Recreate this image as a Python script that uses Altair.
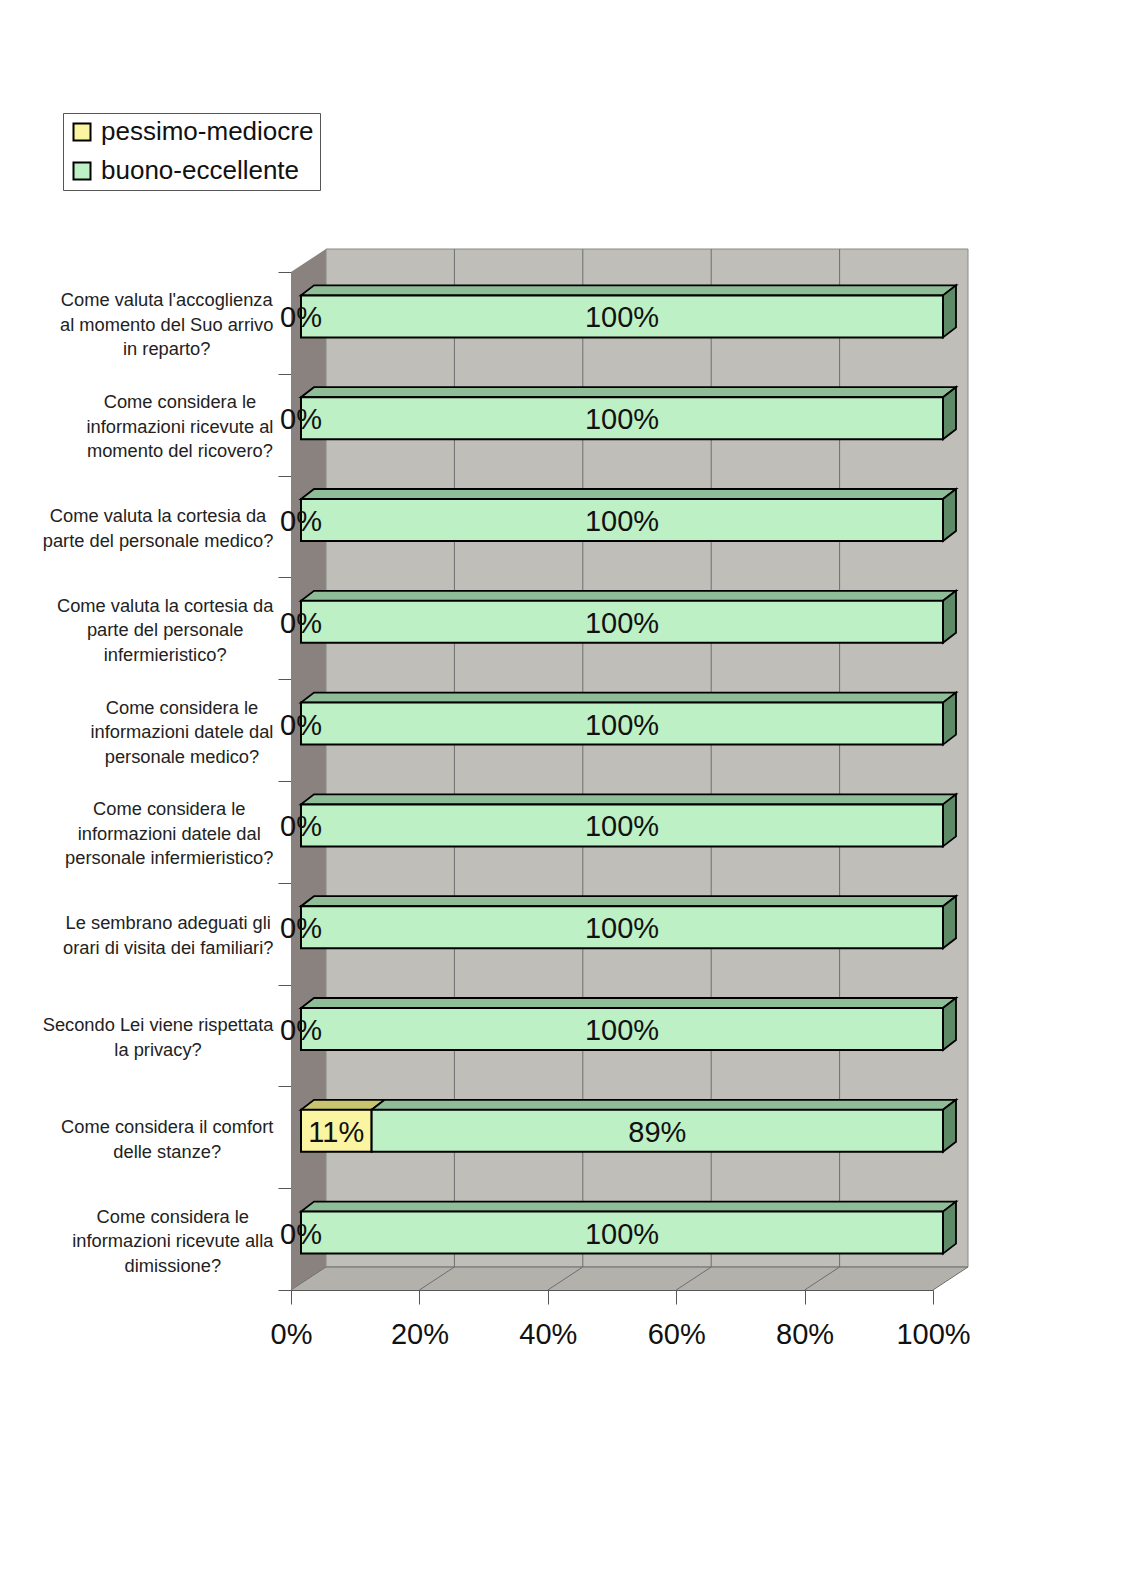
import altair as alt
import pandas as pd

# ---------------- data ----------------
categories = [
    "Come valuta l'accoglienza\nal momento del Suo arrivo\nin reparto?",
    "Come considera le\ninformazioni ricevute al\nmomento del ricovero?",
    "Come valuta la cortesia da\nparte del personale medico?",
    "Come valuta la cortesia da\nparte del personale\ninfermieristico?",
    "Come considera le\ninformazioni datele dal\npersonale medico?",
    "Come considera le\ninformazioni datele dal\npersonale infermieristico?",
    "Le sembrano adeguati gli\norari di visita dei familiari?",
    "Secondo Lei viene rispettata\nla privacy?",
    "Come considera il comfort\ndelle stanze?",
    "Come considera le\ninformazioni ricevute alla\ndimissione?",
]
series = ["pessimo-mediocre", "buono-eccellente"]
pessimo = [0, 0, 0, 0, 0, 0, 0, 0, 11, 0]
buono = [100, 100, 100, 100, 100, 100, 100, 100, 89, 100]
x_ticks = [0, 0.2, 0.4, 0.6, 0.8, 1.0]

# ---------------- geometry / style constants ----------------
W, H = 642, 1018
N = len(categories)
unit = H / N
DX, DY = 35 / W, 23 / unit          # wall depth
FX, FY = 10 / W, 6.5 / unit         # bar front-face offset
BX, BY = 13 / W, 10 / unit          # bar depth
T = 42 / unit                       # bar thickness

FONT = "Liberation Sans"
LABEL_FS = 18.3
LINE_H = 24.5
LABEL_RIGHT = -17.5                 # right edge of label blocks relative to axis (px)
front_colors = ["#fbf4a0", "#bdf0c4"]
top_colors = {"pessimo-mediocre": "#c9c46e", "buono-eccellente": "#8fbd97"}
SIDE = "#5f8a67"

# approximate Arial / Liberation Sans advance widths (per 1000 em)
CW = {" ": 278, "'": 191, "?": 556, "a": 556, "b": 556, "c": 500, "d": 556, "e": 556,
      "f": 278, "g": 556, "h": 556, "i": 222, "j": 222, "k": 500, "l": 222, "m": 833,
      "n": 556, "o": 556, "p": 556, "q": 556, "r": 333, "s": 500, "t": 278, "u": 556,
      "v": 500, "w": 722, "x": 500, "y": 500, "z": 500, "C": 722, "L": 556, "S": 667}


def text_w(s):
    return sum(CW.get(ch, 600) for ch in s) / 1000 * LABEL_FS


# ---------------- derived tables ----------------
fronts, faces, labels, cat_lab = [], [], [], []
for i, cat in enumerate(categories):
    lines = cat.split("\n")
    maxw = max(text_w(l) for l in lines)
    cat_lab.append({"cat": cat,
                    "x": (LABEL_RIGHT - maxw / 2) / W,
                    "y": N - i - 0.5 + (len(lines) - 1) / 2 * LINE_H / unit})
    c = N - i - 0.5 + FY
    top, bot = c + T / 2, c - T / 2
    x0 = 0.0
    vals = [pessimo[i] / 100, buono[i] / 100]
    for s, v in zip(series, vals):
        a, b = x0 + FX, x0 + v + FX
        labels.append({"x": (x0 + v / 2) + FX, "y": c, "txt": f"{round(v * 100)}%"})
        if v > 0:
            fronts.append({"series": s, "x": a, "x2": b, "y": bot, "y2": top})
            pid = f"t{i}{s}"
            col = top_colors[s]
            faces += [
                {"id": pid, "x": a, "y": top, "y2": top, "col": col},
                {"id": pid, "x": a + BX, "y": top, "y2": top + BY, "col": col},
                {"id": pid, "x": b, "y": top, "y2": top + BY, "col": col},
                {"id": pid, "x": b + BX, "y": top + BY, "y2": top + BY, "col": col},
            ]
        x0 += v
    b = x0 + FX
    sid = f"s{i}"
    faces += [
        {"id": sid, "x": b, "y": bot, "y2": top, "col": SIDE},
        {"id": sid, "x": b + BX, "y": bot + BY, "y2": top + BY, "col": SIDE},
    ]

fronts = pd.DataFrame(fronts)
faces = pd.DataFrame(faces)
labels = pd.DataFrame(labels)
cat_lab = pd.DataFrame(cat_lab)
cat_axis = pd.DataFrame({"cat": categories, "x": 0})

left_wall = pd.DataFrame({"y": [0, DY, N, N + DY], "x": [0, 0, 0, DX], "x2": [0, DX, DX, DX]})
floor = pd.DataFrame({"x": [0, DX, 1, 1 + DX], "y": [0, 0, 0, DY], "y2": [0, DY, DY, DY]})
back = pd.DataFrame({"x": [DX], "x2": [1 + DX], "y": [DY], "y2": [N + DY]})
grid_back = pd.DataFrame({"x": [t + DX for t in x_ticks[1:-1]], "y": DY, "y2": N + DY})
grid_floor = pd.DataFrame(
    [{"id": k, "x": t, "y": 0} for k, t in enumerate(x_ticks)]
    + [{"id": k, "x": t + DX, "y": DY} for k, t in enumerate(x_ticks)]
)
back_edge = pd.DataFrame({"x": [DX], "x2": [1 + DX], "y": [DY]})

xs = alt.Scale(domain=[0, 1], nice=False, zero=False)
ys = alt.Scale(domain=[0, N], nice=False, zero=False)
bs = alt.Scale(paddingInner=0, paddingOuter=0)
XAXIS = alt.Axis(
    values=x_ticks, format=".0%", grid=False, domainColor="#555", tickColor="#555",
    tickSize=14, labelFontSize=29, labelFont=FONT, labelColor="#111", labelPadding=16,
    title=None, labelFlush=False)


def X(f="x"):
    return alt.X(f"{f}:Q", scale=xs, stack=None, axis=XAXIS)


def Y(f="y"):
    return alt.Y(f"{f}:Q", scale=ys, stack=None, axis=None)


lw = alt.Chart(left_wall).mark_area(orient="horizontal", color="#8a827e").encode(
    y=Y(), x=X(), x2="x2:Q")
fl = alt.Chart(floor).mark_area(orient="vertical", color="#b2b1ac").encode(
    x=X(), y=Y(), y2="y2:Q")
bw = alt.Chart(back).mark_rect(color="#bfbeb8", stroke="#8a8a86", strokeWidth=1).encode(
    x=X(), x2="x2:Q", y=Y(), y2="y2:Q")
gb = alt.Chart(grid_back).mark_rule(color="#6e6e6e", strokeWidth=1).encode(
    x=X(), y=Y(), y2="y2:Q")
gf = alt.Chart(grid_floor).mark_line(color="#6e6e6e", strokeWidth=1).encode(
    x=X(), y=Y(), detail="id:N")
be = alt.Chart(back_edge).mark_rule(color="#6e6e6e", strokeWidth=1).encode(
    x=X(), x2="x2:Q", y=Y())

fc = alt.Chart(faces).mark_area(orient="vertical", stroke="black", strokeWidth=1.8,
                                strokeJoin="miter").encode(
    x=X(), y=Y(), y2="y2:Q", detail="id:N", fill=alt.Fill("col:N", scale=None))

fr = alt.Chart(fronts).mark_rect(stroke="black", strokeWidth=2).encode(
    x=X(), x2="x2:Q", y=Y(), y2="y2:Q",
    fill=alt.Fill("series:N", scale=alt.Scale(domain=series, range=front_colors),
                  legend=alt.Legend(
                      title=None, orient="none", legendX=-228, legendY=-159,
                      symbolType="square", symbolSize=289, symbolStrokeColor="black",
                      symbolStrokeWidth=2, labelFontSize=26, labelFont=FONT,
                      labelColor="#111", rowPadding=13, padding=6,
                      strokeColor="#555", fillColor="white", labelOffset=6,
                      labelLimit=400)),
)

tx = alt.Chart(labels).mark_text(fontSize=29, font=FONT, color="#111", dy=2).encode(
    x=X(), y=Y(), text="txt:N")

# category axis: ticks and domain line only (labels drawn by the text layer below)
ax = alt.Chart(cat_axis).mark_point(opacity=0).encode(
    x=X(),
    y=alt.Y("cat:N", sort=categories, scale=bs,
            axis=alt.Axis(title=None, tickBand="extent", tickSize=13, labels=False,
                          domainColor="#555", tickColor="#555")),
)

cl = alt.Chart(cat_lab).mark_text(fontSize=LABEL_FS, font=FONT, color="#222",
                                  align="center", baseline="middle", lineBreak="\n",
                                  lineHeight=LINE_H, dy=3).encode(
    x=X(), y=Y(), text="cat:N")

chart = alt.layer(lw, bw, fl, gb, gf, be, fc, fr, tx, cl, ax).resolve_scale(
    y="independent"
).properties(
    width=W, height=H,
    autosize=alt.AutoSizeParams(type="none"),
    padding={"left": 283, "top": 264, "right": 150, "bottom": 200},
    background="white",
).configure_view(stroke=None)

chart.save("out.html", embed_options={"renderer": "svg", "actions": False})
